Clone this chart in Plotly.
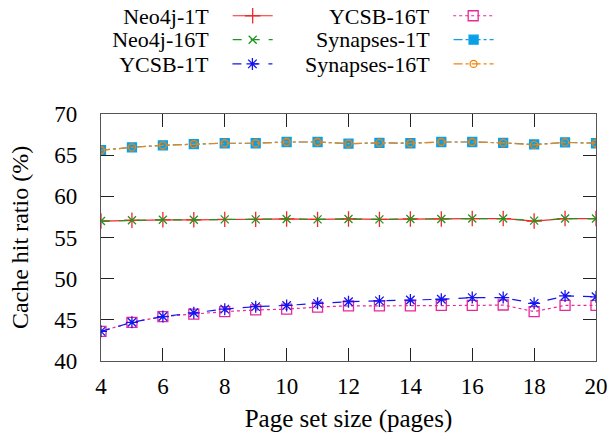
import plotly.graph_objects as go

pages = [4, 5, 6, 7, 8, 9, 10, 11, 12, 13, 14, 15, 16, 17, 18, 19, 20]

neo4j_1t = [57.0, 57.1, 57.15, 57.15, 57.2, 57.2, 57.25, 57.2, 57.25, 57.2, 57.25, 57.25, 57.3, 57.3, 57.0, 57.3, 57.3]
neo4j_16t = [57.0, 57.1, 57.15, 57.15, 57.2, 57.2, 57.25, 57.2, 57.25, 57.2, 57.25, 57.25, 57.3, 57.3, 57.05, 57.3, 57.3]
ycsb_1t = [43.6, 44.7, 45.4, 45.85, 46.3, 46.6, 46.75, 47.0, 47.2, 47.3, 47.4, 47.5, 47.7, 47.7, 47.0, 47.9, 47.8]
ycsb_16t = [43.6, 44.7, 45.4, 45.7, 46.0, 46.2, 46.3, 46.55, 46.7, 46.7, 46.7, 46.75, 46.75, 46.8, 46.0, 46.75, 46.75]
syn_1t = [65.6, 65.95, 66.2, 66.35, 66.45, 66.45, 66.6, 66.6, 66.4, 66.5, 66.45, 66.6, 66.6, 66.5, 66.3, 66.55, 66.45]
syn_16t = [65.6, 65.95, 66.2, 66.35, 66.45, 66.45, 66.6, 66.6, 66.4, 66.5, 66.45, 66.6, 66.6, 66.5, 66.25, 66.55, 66.45]

x_ticks = [4, 6, 8, 10, 12, 14, 16, 18, 20]
y_ticks = [40, 45, 50, 55, 60, 65, 70]

FONT = "Liberation Serif"

# name, values, colour, dash, symbol, marker size, legend column, legend row
series = [
    ("Neo4j-1T", neo4j_1t, "#f02a2a", "solid", "cross-thin", 11, 0, 0),
    ("Neo4j-16T", neo4j_16t, "#1e961e", "dash", "x-thin", 8, 0, 1),
    ("YCSB-1T", ycsb_1t, "#1414f0", "dash", "asterisk-open", 10, 0, 2),
    ("YCSB-16T", ycsb_16t, "#e8289a", "dot", "square-open", 10, 1, 0),
    ("Synapses-1T", syn_1t, "#0aa0e6", "dashdot", "square", 9, 1, 1),
    ("Synapses-16T", syn_16t, "#f5820a", "dashdot", "circle-open", 7, 1, 2),
]

legend_col_x = [0.368, 0.814]
legend_row_y = [1.397, 1.300, 1.202]

# drawing order: keep 16T over 1T for Neo4j/Synapses, stars over squares for YCSB
draw_order = [0, 3, 2, 1, 4, 5]

fig = go.Figure()
layout_legends = {}
for idx in draw_order:
    name, vals, color, dash, sym, size, col, row = series[idx]
    lg = "legend" if idx == 0 else f"legend{idx + 1}"
    fig.add_trace(go.Scatter(
        x=pages, y=vals, name="", mode="lines+markers",
        legend=lg, showlegend=True,
        hovertemplate=name + ": %{y}<extra></extra>",
        line=dict(color=color, width=1.2, dash=dash),
        marker=dict(symbol=sym, size=size, color=color,
                    line=dict(color=color, width=1.3)),
    ))
    layout_legends[lg] = dict(
        x=legend_col_x[col], xanchor="right", y=legend_row_y[row], yanchor="middle",
        orientation="h", bgcolor="rgba(0,0,0,0)", itemwidth=40,
        font=dict(family=FONT, size=22, color="black"),
        title=dict(text=name + "\u00a0\u00a0", side="left",
                   font=dict(family=FONT, size=22, color="black")),
    )

axis_common = dict(
    showgrid=False, zeroline=False, showline=True, linecolor="#555555", linewidth=1.2,
    mirror="allticks", ticks="inside", ticklen=13, tickcolor="#222222", tickwidth=1,
    tickfont=dict(family=FONT, size=23, color="black"),
)

fig.update_layout(
    width=615, height=440,
    paper_bgcolor="white", plot_bgcolor="white",
    margin=dict(l=101, r=19, t=114, b=79, autoexpand=False),
    font=dict(family=FONT, color="black"),
    showlegend=True,
    xaxis=dict(axis_common, range=[4, 20], tickvals=x_ticks, ticklabelstandoff=4,
               title=dict(text="Page set size (pages)", font=dict(family=FONT, size=25), standoff=11)),
    yaxis=dict(axis_common, range=[40, 70], tickvals=y_ticks, ticklabelstandoff=18,
               title=dict(text="Cache hit ratio (%)", font=dict(family=FONT, size=24), standoff=18)),
    **layout_legends,
)

fig.write_html("out.html", config={"displayModeBar": False},
               post_script="document.body.style.margin='0';")
